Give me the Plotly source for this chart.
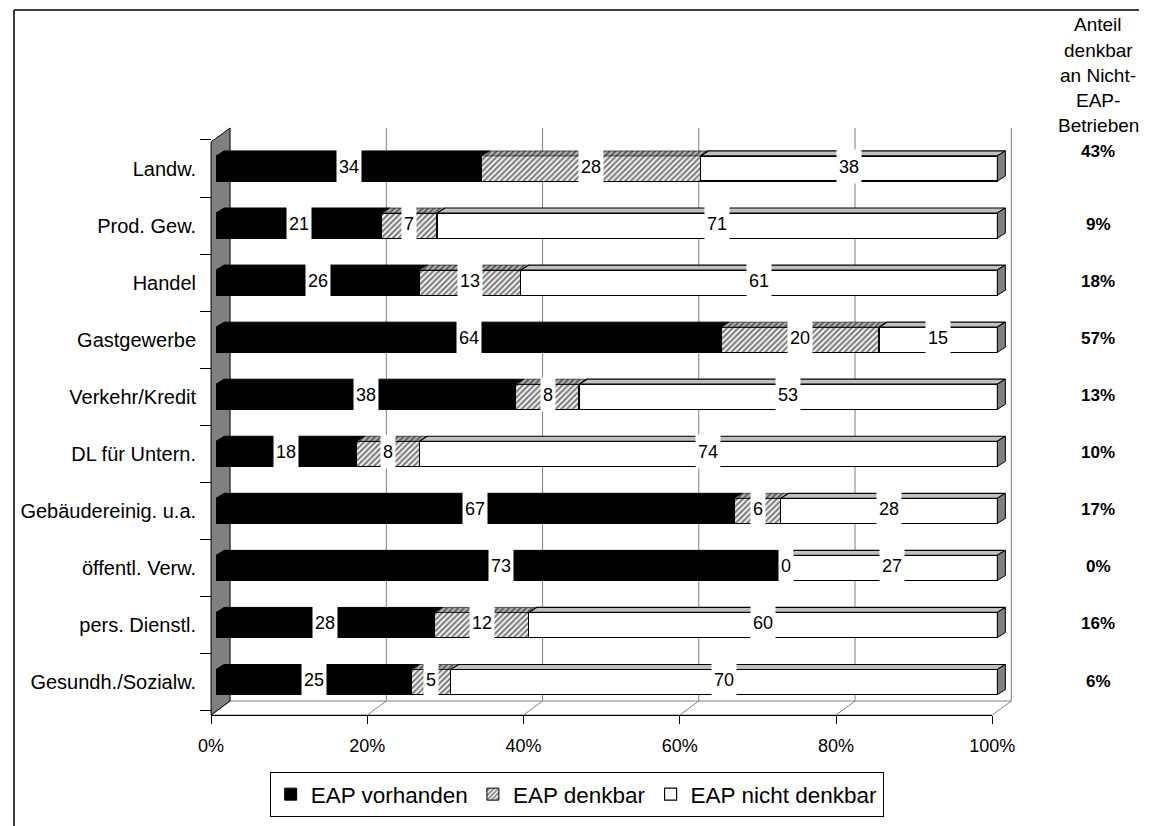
import plotly.graph_objects as go

# ---------------------------------------------------------------------------
# Data
# ---------------------------------------------------------------------------
categories = ["Landw.", "Prod. Gew.", "Handel", "Gastgewerbe", "Verkehr/Kredit",
              "DL für Untern.", "Gebäudereinig. u.a.", "öffentl. Verw.",
              "pers. Dienstl.", "Gesundh./Sozialw."]
eap_vorhanden = [34, 21, 26, 64, 38, 18, 67, 73, 28, 25]
eap_denkbar = [28, 7, 13, 20, 8, 8, 6, 0, 12, 5]
eap_nicht_denkbar = [38, 71, 61, 15, 53, 74, 28, 27, 60, 70]
anteil_denkbar = [43, 9, 18, 57, 13, 10, 17, 0, 16, 6]
header_lines = ["Anteil", "denkbar", "an Nicht-", "EAP-", "Betrieben"]
x_ticks = [0, 20, 40, 60, 80, 100]
series_names = ["EAP vorhanden", "EAP denkbar", "EAP nicht denkbar"]

# ---------------------------------------------------------------------------
# Page geometry (pixels) for the pseudo-3D frame
# ---------------------------------------------------------------------------
W, H = 1162, 826
FONT = "Liberation Sans, Arial, sans-serif"

FRONT_L, FRONT_R = 204.4, 1010.6  # front edge of the floor: 0 % .. 100 %
FLOOR_Y = 715                     # front edge of the floor
WALL_TOP = 142                    # top of the left wall, front edge
DEPTH_X, DEPTH_Y = 19.6, -14      # offset from front plane to back wall
BAR_SHIFT = 5.2                   # bars sit slightly behind the front plane
BAR_DX, BAR_DY = 8.3, 5           # depth of each bar (right / up)
ROW0, ROW_STEP = 168.5, 57.06     # centre of first bar face, row pitch
BAR_W = 0.44                      # bar thickness in row units
SIDE_X = 1120                     # centre of the share column
LEGEND_X = 581.7                  # centre of the legend box
FRAME_X = 1                       # left edge of the outer frame

PX_PER_PCT = (FRONT_R - FRONT_L) / 100.0
X_LO, X_HI = -1.0, 103.0          # bar axis range (room for side faces)
Y_TOP, Y_BOT = -1.0, 10.0         # reversed row axis


def fx(px):
    return px / W


def fy(py):
    return 1 - py / H


n = len(categories)
rows = list(range(n))

# cumulative (normalised to 100 %) segment boundaries for the 3D faces
bounds = []
for v, d, nd in zip(eap_vorhanden, eap_denkbar, eap_nicht_denkbar):
    tot = v + d + nd
    b1 = v / tot * 100
    b2 = (v + d) / tot * 100
    bounds.append((0.0, b1, b2, 100.0))

ddx = BAR_DX / PX_PER_PCT
ddy = BAR_DY / ROW_STEP

fig = go.Figure()

# front faces of the stacked bars
fills = [
    dict(color="black", line=dict(color="black", width=1)),
    dict(color="white", line=dict(color="black", width=1),
         pattern=dict(shape="/", fgcolor="black", bgcolor="white",
                      size=4, solidity=0.55)),
    dict(color="white", line=dict(color="black", width=1.2)),
]
for name, vals, mk in zip(series_names,
                          [eap_vorhanden, eap_denkbar, eap_nicht_denkbar], fills):
    fig.add_trace(go.Bar(
        name=name, y=rows, x=vals, orientation="h", width=BAR_W,
        marker=mk, hoverinfo="skip",
    ))


def top_faces(k):
    xs, ys = [], []
    for i, b in enumerate(bounds):
        a, c = b[k], b[k + 1]
        if c - a <= 0:
            continue
        yt = i - BAR_W / 2
        xs += [a, c, c + ddx, a + ddx, a, None]
        ys += [yt, yt, yt - ddy, yt - ddy, yt, None]
    return xs, ys


face_styles = [
    dict(fillcolor="black", line=dict(color="black", width=1)),
    dict(fillcolor="#c0c0c0", line=dict(color="black", width=0.6),
         fillpattern=dict(shape="/", fgcolor="black", bgcolor="#c0c0c0",
                          size=4, solidity=0.55)),
    dict(fillcolor="#c0c0c0", line=dict(color="black", width=1.2)),
]
for k, st in enumerate(face_styles):
    xs, ys = top_faces(k)
    fig.add_trace(go.Scatter(x=xs, y=ys, mode="lines", fill="toself",
                             showlegend=False, hoverinfo="skip", **st))

# right-hand end faces
sx, sy = [], []
for i, b in enumerate(bounds):
    yt, yb = i - BAR_W / 2, i + BAR_W / 2
    e = b[3]
    sx += [e, e + ddx, e + ddx, e, e, None]
    sy += [yt, yt - ddy, yb - ddy, yb, yt, None]
fig.add_trace(go.Scatter(x=sx, y=sy, mode="lines", fill="toself",
                         fillcolor="#808080", line=dict(color="black", width=1),
                         showlegend=False, hoverinfo="skip"))

# invisible trace that carries the front percentage axis
fig.add_trace(go.Scatter(x=[0, 100], y=[0, 0], xaxis="x2", yaxis="y",
                         mode="markers", marker=dict(opacity=0),
                         showlegend=False, hoverinfo="skip"))

# value labels in white boxes
annotations = []
for i, b in enumerate(bounds):
    vals = [eap_vorhanden[i], eap_denkbar[i], eap_nicht_denkbar[i]]
    for k in range(3):
        annotations.append(dict(
            x=(b[k] + b[k + 1]) / 2, y=i, xref="x", yref="y",
            text=str(vals[k]), showarrow=False, bgcolor="white",
            borderpad=2, height=29, yshift=2.5,
            font=dict(family=FONT, size=18, color="black"),
        ))

# column of shares on the right
for k, line in enumerate(header_lines):
    annotations.append(dict(
        x=fx(SIDE_X), y=fy(25 + 25.2 * k), xref="paper", yref="paper",
        text=line, showarrow=False, xanchor="center", yanchor="middle",
        font=dict(family=FONT, size=19, color="black"),
    ))
annotations.append(dict(
    x=fx(SIDE_X), y=fy(151), xref="paper", yref="paper",
    text=f"<b>{anteil_denkbar[0]}%</b>", showarrow=False,
    xanchor="center", yanchor="middle",
    font=dict(family=FONT, size=17, color="black"),
))
for i in range(1, n):
    annotations.append(dict(
        x=fx(SIDE_X), y=i, xref="paper", yref="y",
        text=f"<b>{anteil_denkbar[i]}%</b>", showarrow=False,
        xanchor="center", yanchor="middle", yshift=1,
        font=dict(family=FONT, size=17, color="black"),
    ))

# walls, floor and frame
shapes = []
back_l = FRONT_L + DEPTH_X
back_r = FRONT_R + DEPTH_X
back_floor = FLOOR_Y + DEPTH_Y
back_top = WALL_TOP + DEPTH_Y

shapes.append(dict(
    type="path", xref="paper", yref="paper", layer="below",
    path=(f"M {fx(FRONT_L)},{fy(FLOOR_Y)} L {fx(FRONT_R)},{fy(FLOOR_Y)} "
          f"L {fx(back_r)},{fy(back_floor)} L {fx(back_l)},{fy(back_floor)} Z"),
    fillcolor="white", line=dict(color="#808080", width=1),
))
for t in x_ticks[1:-1]:
    xf = FRONT_L + t * PX_PER_PCT
    xb = back_l + t * PX_PER_PCT
    shapes.append(dict(type="line", xref="paper", yref="paper", layer="below",
                       x0=fx(xf), y0=fy(FLOOR_Y), x1=fx(xb), y1=fy(back_floor),
                       line=dict(color="#808080", width=1)))
for t in x_ticks[1:]:
    xb = back_l + t * PX_PER_PCT
    shapes.append(dict(type="line", xref="paper", yref="paper", layer="below",
                       x0=fx(xb), y0=fy(back_top), x1=fx(xb), y1=fy(back_floor),
                       line=dict(color="#808080", width=1)))
shapes.append(dict(
    type="path", xref="paper", yref="paper", layer="below",
    path=(f"M {fx(FRONT_L)},{fy(WALL_TOP)} L {fx(back_l)},{fy(back_top)} "
          f"L {fx(back_l)},{fy(back_floor)} L {fx(FRONT_L)},{fy(FLOOR_Y)} Z"),
    fillcolor="#808080", line=dict(color="black", width=1),
))
# outer frame (top and left edge visible)
shapes.append(dict(type="line", xref="paper", yref="paper",
                   x0=fx(FRAME_X), y0=fy(10), x1=1, y1=fy(10),
                   line=dict(color="black", width=1.5)))
shapes.append(dict(type="line", xref="paper", yref="paper",
                   x0=fx(FRAME_X), y0=fy(10), x1=fx(FRAME_X), y1=0,
                   line=dict(color="black", width=1.5)))

bar_l = FRONT_L + BAR_SHIFT
y_dom = [fy(ROW0 + ROW_STEP * Y_BOT), fy(ROW0 + ROW_STEP * Y_TOP)]

fig.update_layout(
    width=W, height=H,
    margin=dict(l=0, r=0, t=0, b=0),
    paper_bgcolor="white", plot_bgcolor="rgba(0,0,0,0)",
    barmode="stack", barnorm="percent",
    hovermode=False,
    font=dict(family=FONT, color="black"),
    xaxis=dict(
        domain=[fx(bar_l + X_LO * PX_PER_PCT), fx(bar_l + X_HI * PX_PER_PCT)],
        range=[X_LO, X_HI], visible=False, fixedrange=True,
    ),
    xaxis2=dict(
        domain=[fx(FRONT_L), fx(FRONT_R)], range=[0, 100],
        anchor="free", position=fy(FLOOR_Y),
        tickmode="array", tickvals=x_ticks,
        ticktext=[f"{t}%" for t in x_ticks],
        ticks="outside", ticklen=8, tickcolor="black",
        showline=True, linecolor="black", linewidth=1,
        showgrid=False, zeroline=False,
        tickfont=dict(family=FONT, size=18, color="black"),
        ticklabelstandoff=6,
    ),
    yaxis=dict(
        domain=y_dom, range=[Y_BOT, Y_TOP],
        anchor="free", position=fx(FRONT_L),
        tickmode="array", tickvals=rows, ticktext=categories,
        ticks="outside", ticklen=11, tickcolor="rgba(0,0,0,0)",
        minor=dict(tickmode="array",
                   tickvals=[r - 0.5 for r in rows] + [n - 0.5],
                   ticks="outside", ticklen=11, tickcolor="black",
                   showgrid=False),
        showline=False, showgrid=False, zeroline=False,
        tickfont=dict(family=FONT, size=20, color="black"),
    ),
    legend=dict(
        orientation="h", x=fx(LEGEND_X), y=fy(772),
        xanchor="center", yanchor="top",
        bordercolor="black", borderwidth=1, bgcolor="white",
        itemwidth=30, font=dict(family=FONT, size=22.5, color="black"),
        traceorder="normal", itemclick=False, itemdoubleclick=False,
    ),
    shapes=shapes,
    annotations=annotations,
)

fig.write_html("out.html")
